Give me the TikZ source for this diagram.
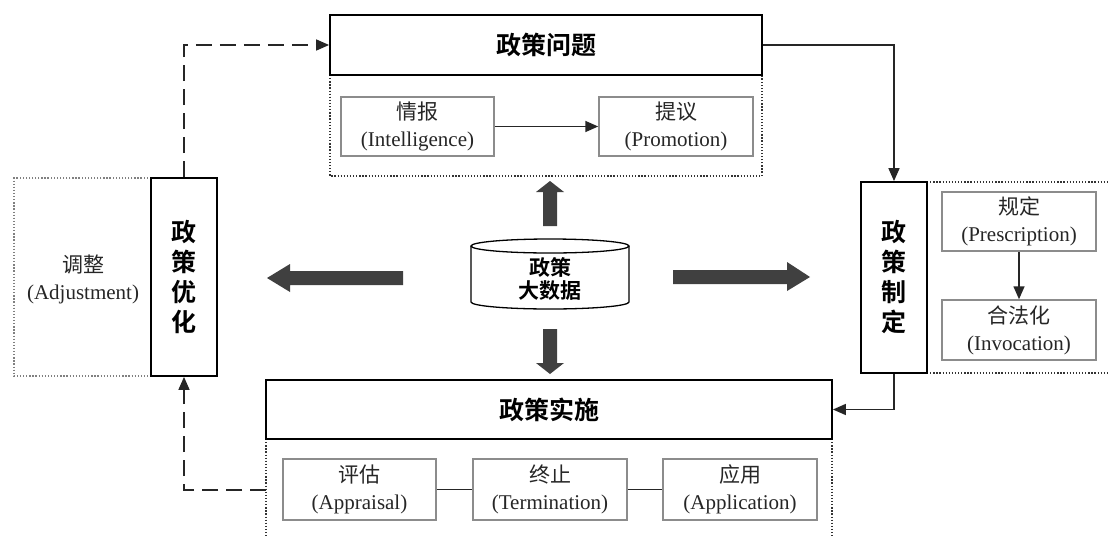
\documentclass[tikz,border=0pt]{standalone}
\usepackage{fontspec}
\setmainfont{Liberation Serif}
\newfontfamily\cjk{Noto Sans CJK SC}
\newfontfamily\cjkb{Noto Sans CJK SC Bold}
\usetikzlibrary{arrows.meta}
\tikzset{
  mainbox/.style={draw=black, line width=1.8pt, fill=white, inner sep=0pt, align=center},
  titlebox/.style={mainbox, font=\cjkb\fontsize{25}{30}\selectfont},
  vbox/.style={mainbox, minimum width=66pt, font=\cjkb\fontsize{25}{30}\selectfont},
  subbox/.style={draw=black!45, line width=1.5pt, fill=white, inner sep=0pt, minimum width=154pt, minimum height=59pt, align=center, font=\fontsize{21}{27}\selectfont, text=black!85},
  conn/.style={draw=black!85, line width=1.6pt},
  tip/.style={-{Triangle[length=13pt,width=11pt]}},
  arr/.style={conn, tip},
  dashconn/.style={conn, dash pattern=on 16pt off 8pt},
  dotreg/.style={draw=black!80, line width=1.3pt, dash pattern=on 1.3pt off 1.8pt},
  fat/.style={fill=black!75, draw=none}
}
\begin{document}
\begin{tikzpicture}[x=1pt, y=-1pt]
\useasboundingbox[fill=white] (0,0) rectangle (1108,536);

% dotted regions
\draw[dotreg] (330,75) -- (330,176) -- (762,176) -- (762,75);
\draw[dotreg] (927,182) -- (1108,182);
\draw[dotreg] (927,373) -- (1108,373);
\draw[dotreg] (266,439) -- (266,536);
\draw[dotreg] (832,439) -- (832,536);
\draw[dotreg, draw=black!50] (151,178) -- (14,178) -- (14,376) -- (151,376);

% main boxes
\node[titlebox, minimum width=432pt, minimum height=60pt] (prob) at (546,45) {{政策问题}};
\node[titlebox, minimum width=566pt, minimum height=59pt] (impl) at (549,409.5) {{政策实施}};
\node[vbox, minimum height=191pt] (form) at (894,277.5) {政\\策\\制\\定};
\node[vbox, minimum height=198pt] (opt) at (184,277) {政\\策\\优\\化};

% sub boxes
\node[subbox, minimum width=153pt] (intel) at (417.5,126.5) {{\cjk 情报}\\(Intelligence)};
\node[subbox] (promo) at (676,126.5) {{\cjk 提议}\\(Promotion)};
\node[subbox] (presc) at (1019,221.5) {{\cjk 规定}\\(Prescription)};
\node[subbox, minimum height=60pt] (invoc) at (1019,330) {{\cjk 合法化}\\(Invocation)};
\node[subbox, minimum width=153pt, minimum height=61pt] (appr) at (359.5,489.5) {{\cjk 评估}\\(Appraisal)};
\node[subbox, minimum height=61pt] (term) at (550,489.5) {{\cjk 终止}\\(Termination)};
\node[subbox, minimum height=61pt] (appl) at (740,489.5) {{\cjk 应用}\\(Application)};
\node[align=center, font=\fontsize{21}{27}\selectfont, text=black!85] (adj) at (83,279) {{\cjk 调整}\\(Adjustment)};

% cylinder
\draw[line width=1.3pt, fill=white] (471,246) -- (471,302) arc[start angle=180, end angle=360, x radius=79pt, y radius=7pt] -- (629,246);
\draw[line width=1.3pt] (550,246) ellipse [x radius=79pt, y radius=7pt];
\node[align=center, font=\cjkb\fontsize{21}{23}\selectfont, inner sep=0pt] (db) at (550,279) {政策\\大数据};

% fat arrows
\fill[fat] (543,226) -- (543,192) -- (536,192) -- (550,181) -- (564,192) -- (557,192) -- (557,226) -- cycle;
\fill[fat] (543,329) -- (543,363) -- (536,363) -- (550,374) -- (564,363) -- (557,363) -- (557,329) -- cycle;
\fill[fat] (403,271) -- (290,271) -- (290,264) -- (267,278) -- (290,292) -- (290,285) -- (403,285) -- cycle;
\fill[fat] (673,270) -- (787,270) -- (787,262) -- (810,277) -- (787,291) -- (787,284) -- (673,284) -- cycle;

% connectors
\draw[arr] (intel) -- (promo);
\draw[arr] (presc) -- (invoc);
\draw[conn] (appr) -- (term);
\draw[conn] (term) -- (appl);
\draw[arr] (prob.east) -| (form.north);
\draw[arr] (form.south) |- (impl.east);
\draw[dashconn, tip] (opt.north) |- (prob.west);
\coordinate (aL) at (266,490);
\draw[dashconn, tip] (aL) -| (opt.south);
\end{tikzpicture}
\end{document}
